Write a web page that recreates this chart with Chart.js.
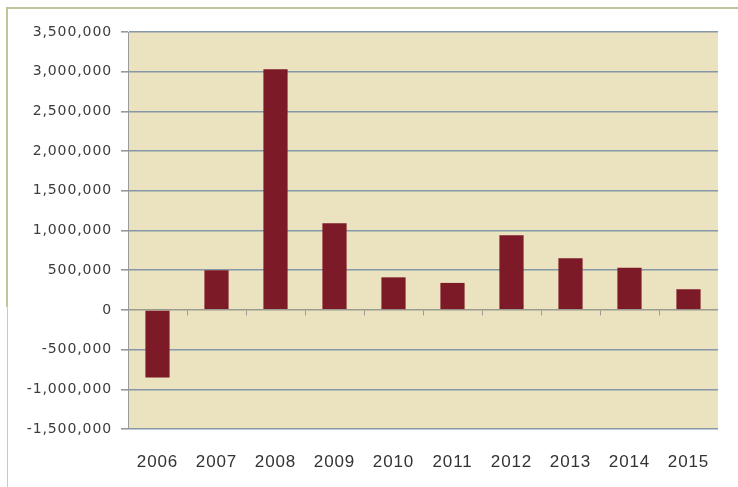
<!DOCTYPE html>
<html>
<head>
<meta charset="utf-8">
<title>Annual values 2006-2015</title>
<script src="https://cdn.jsdelivr.net/npm/chart.js@4/dist/chart.umd.min.js"></script>
<style>
    html, body { margin: 0; padding: 0; background: #fff; overflow: hidden; }
    #wrap { position: relative; width: 738px; height: 487px; }
    #frame-top { position: absolute; left: 6px; top: 7px; width: 740px; height: 298px; border-top: 2px solid #bcc597; border-left: 2px solid #bcc597; pointer-events: none; }
    #frame-low { position: absolute; left: 7px; top: 305px; height: 190px; border-left: 1px solid #c8d0a8; pointer-events: none; }
</style>
</head>
<body>
<div id="wrap">
    <canvas id="yearChart" width="738" height="487"></canvas>
    <div id="frame-top"></div>
    <div id="frame-low"></div>
</div>
<script>
// --- Chart data ---
const years = ['2006', '2007', '2008', '2009', '2010', '2011', '2012', '2013', '2014', '2015'];
const values = [-850000, 500000, 3030000, 1090000, 410000, 340000, 940000, 650000, 530000, 260000];
const yTicks = [-1500000, -1000000, -500000, 0, 500000, 1000000, 1500000, 2000000, 2500000, 3000000, 3500000];

// --- Plot background, wider text spacing, and category ticks along the zero line ---
const plotStyle = {
    id: 'plotStyle',
    beforeDraw(chart) {
        const { ctx, chartArea: a } = chart;
        ctx.save();
        ctx.fillStyle = '#ebe3bf';
        ctx.fillRect(a.left, a.top, a.right - a.left, a.bottom - a.top);
        ctx.restore();
        ctx.letterSpacing = '0.9px';
    },
    afterDatasetsDraw(chart) {
        const { ctx, scales: { x, y } } = chart;
        const y0 = Math.round(y.getPixelForValue(0)) + 0.5;
        ctx.save();
        ctx.strokeStyle = '#9a9c90';
        ctx.lineWidth = 1;
        ctx.beginPath();
        for (let i = 1; i < years.length; i++) {
            const px = Math.round((x.getPixelForValue(i - 1) + x.getPixelForValue(i)) / 2) + 0.5;
            ctx.moveTo(px, y0);
            ctx.lineTo(px, y0 + 5);
        }
        ctx.stroke();
        ctx.restore();
    }
};

const ctx = document.getElementById('yearChart').getContext('2d');
new Chart(ctx, {
    type: 'bar',
    data: {
        labels: years,
        datasets: [{
            data: values,
            backgroundColor: '#7c1a27',
            borderWidth: 0,
            barPercentage: 0.41,
            categoryPercentage: 1
        }]
    },
    options: {
        responsive: false,
        animation: false,
        devicePixelRatio: 1,
        layout: { padding: { top: 32, right: 20, bottom: 0, left: 0 } },
        plugins: { legend: { display: false }, tooltip: { enabled: false } },
        scales: {
            x: {
                afterFit(scale) { scale.height = 58; },
                grid: { display: false, drawTicks: false },
                border: { display: false },
                ticks: {
                    color: '#333333',
                    padding: 23,
                    maxRotation: 0,
                    font: { family: '"Liberation Sans", Arial, sans-serif', size: 17 }
                }
            },
            y: {
                min: yTicks[0],
                max: yTicks[yTicks.length - 1],
                afterFit(scale) { scale.width = 128; },
                afterBuildTicks(scale) { scale.ticks = yTicks.map(v => ({ value: v })); },
                grid: {
                    color: c => (c.tick && c.tick.value === 0) ? '#9a9c90' : '#8598a8',
                    lineWidth: 1.6,
                    tickColor: '#9a9a9a',
                    tickLength: 7
                },
                border: { display: true, color: '#9a9a9a', width: 1 },
                ticks: {
                    color: '#3c3c3c',
                    padding: 9,
                    font: { family: '"DejaVu Sans", Verdana, sans-serif', size: 14 },
                    callback: v => v.toLocaleString('en-US')
                }
            }
        }
    },
    plugins: [plotStyle]
});
</script>
</body>
</html>
